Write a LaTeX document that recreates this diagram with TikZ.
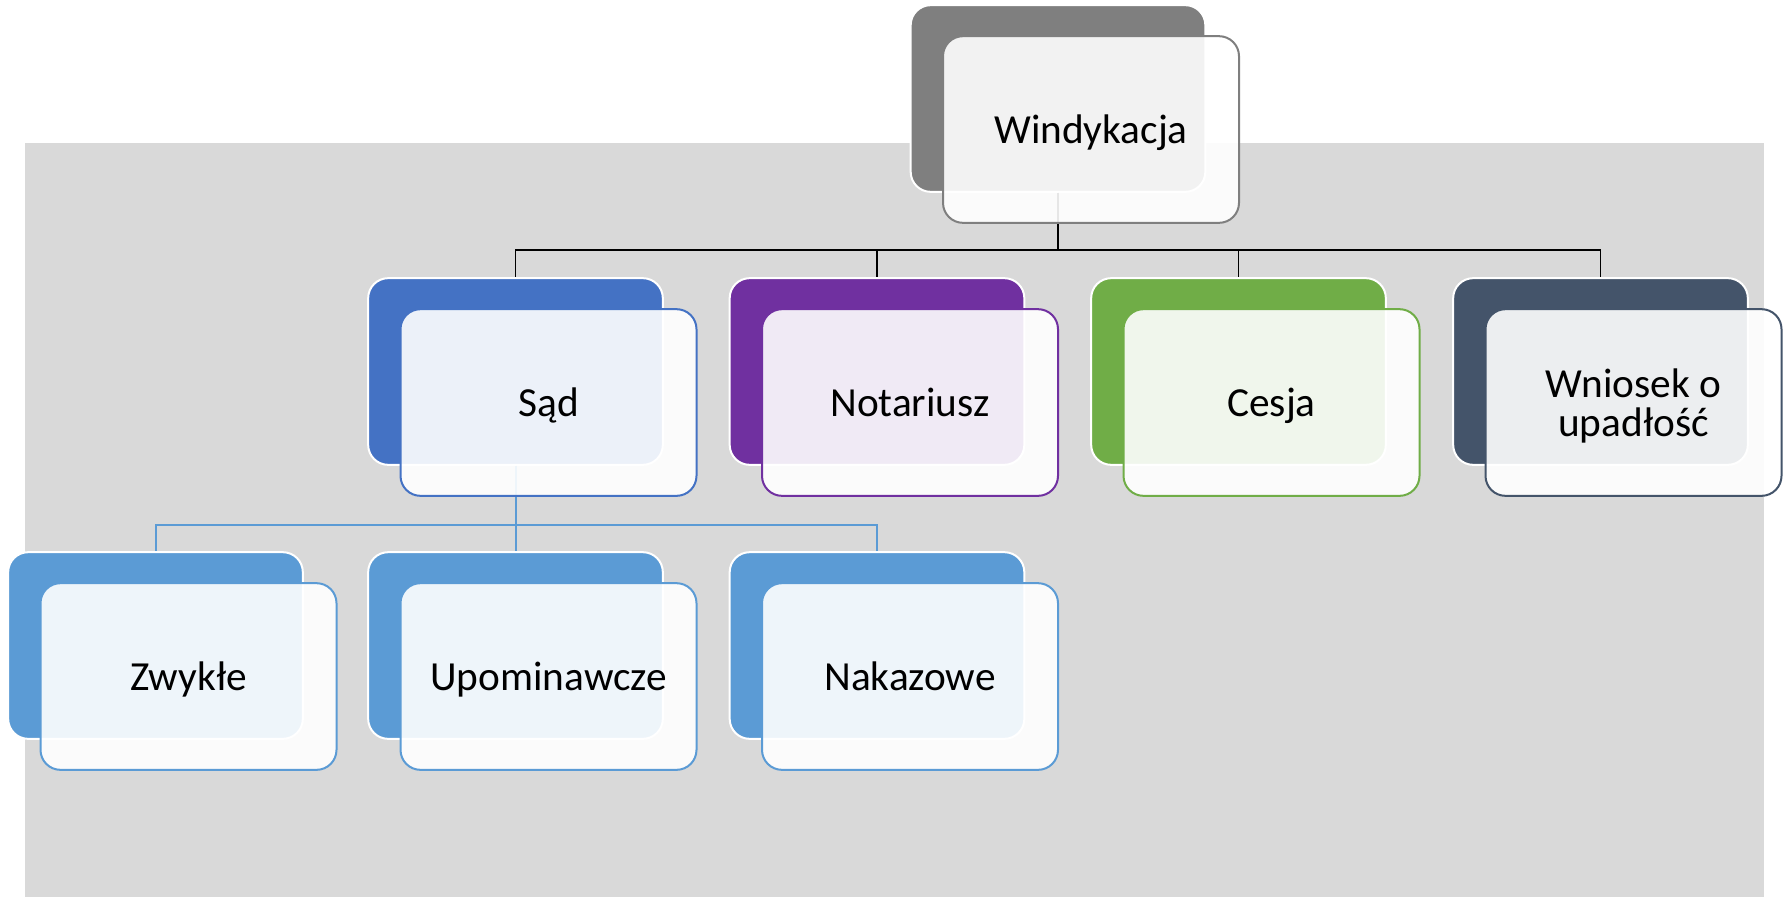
\documentclass[tikz,border=0pt]{standalone}
\usepackage{fontspec}
\setmainfont{Carlito}
\definecolor{bggray}{HTML}{D9D9D9}
\definecolor{cgray}{HTML}{7F7F7F}
\definecolor{cblue}{HTML}{4472C4}
\definecolor{cpurple}{HTML}{7030A0}
\definecolor{cgreen}{HTML}{70AD47}
\definecolor{cnavy}{HTML}{44546A}
\definecolor{clblue}{HTML}{5B9BD5}
\begin{document}
\begin{tikzpicture}[x=0.75pt,y=-0.75pt,
  backbox/.style={draw=white, line width=1.5pt, rounded corners=15pt,
    minimum width=221pt, minimum height=140pt, inner sep=0pt, fill=#1},
  frontbox/.style={draw=#1, line width=1.5pt, rounded corners=15pt,
    minimum width=222pt, minimum height=140pt, inner sep=0pt,
    fill=white, fill opacity=0.9, text opacity=1, align=center,
    text depth=0pt,
    font=\fontsize{31}{29.5}\selectfont},
  conn/.style={draw=black, line width=1.1pt},
  conntwo/.style={draw=clblue, line width=1.5pt}]
\useasboundingbox (0,0) rectangle (1787,897);
\fill[bggray] (25,143) rectangle (1764,897);
% back boxes
\node[backbox=cgray] (wB) at (1058,98.5) {};
\node[backbox=cblue] (sB) at (515.5,371.5) {};
\node[backbox=cpurple] (nB) at (877,371.5) {};
\node[backbox=cgreen] (cB) at (1238.5,371.5) {};
\node[backbox=cnavy] (uB) at (1600.5,371.5) {};
\node[backbox=clblue] (zB) at (155.5,645.5) {};
\node[backbox=clblue] (pB) at (515.5,645.5) {};
\node[backbox=clblue] (kB) at (877,645.5) {};
% connectors
\coordinate (barone) at (0,250);
\coordinate (bartwo) at (0,525);
\foreach \c in {sB,nB,cB,uB}
  \draw[conn] (wB.south) -- (wB.south |- barone) -| (\c.north);
\foreach \c in {zB,pB,kB}
  \draw[conntwo] (sB.south) -- (sB.south |- bartwo) -| (\c.north);
% front boxes
\node[frontbox=cgray] (w) at ([shift={(33,31)}]wB.center) {Windykacja};
\node[frontbox=cblue] (s) at ([shift={(33,31)}]sB.center) {Sąd};
\node[frontbox=cpurple] (n) at ([shift={(33,31)}]nB.center) {Notariusz};
\node[frontbox=cgreen] (c) at ([shift={(33,31)}]cB.center) {Cesja};
\node[frontbox=cnavy] (u) at ([shift={(33,31)}]uB.center) {Wniosek o\\upadłość};
\node[frontbox=clblue] (z) at ([shift={(33,31)}]zB.center) {Zwykłe};
\node[frontbox=clblue] (p) at ([shift={(33,31)}]pB.center) {Upominawcze};
\node[frontbox=clblue] (k) at ([shift={(33,31)}]kB.center) {Nakazowe};
\end{tikzpicture}
\end{document}
